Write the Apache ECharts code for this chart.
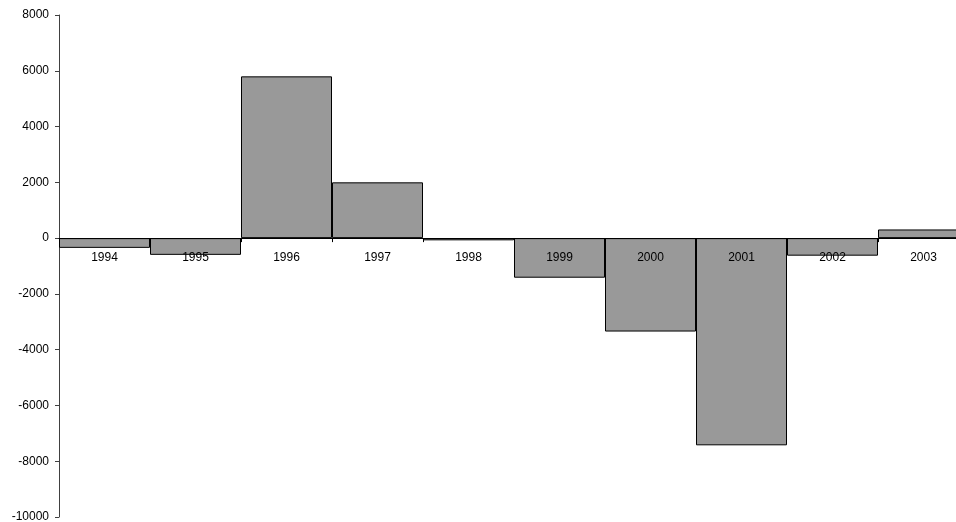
<!DOCTYPE html>
<html>
<head>
<meta charset="utf-8">
<script src="https://cdn.jsdelivr.net/npm/echarts@6/dist/echarts.min.js"></script>
<style>
  html, body { margin: 0; padding: 0; background: #fff; }
  #chart { width: 956px; height: 522px; }
</style>
</head>
<body>
<div id="chart"></div>
<script>
// Annual change, 1994–2003
const years = ['1994', '1995', '1996', '1997', '1998', '1999', '2000', '2001', '2002', '2003'];
const values = [-350, -600, 5800, 2000, -80, -1420, -3350, -7430, -630, 310];

// Value axis ticks
const yMin = -10000;
const yMax = 8000;
const yStep = 2000;

const labelFont = {
  color: '#000',
  fontFamily: 'Liberation Sans, Arial, sans-serif',
  fontSize: 12
};

const chart = echarts.init(document.getElementById('chart'), null, { renderer: 'canvas' });

chart.setOption({
  backgroundColor: '#ffffff',
  animation: false,
  grid: { left: 59, right: -13, top: 15, bottom: 5, containLabel: false, outerBoundsMode: 'none' },
  xAxis: [
    {
      // baseline drawn along zero, with category boundary ticks
      type: 'category',
      data: years,
      z: 10,
      axisLine: { onZero: true, lineStyle: { color: '#000', width: 1 } },
      axisTick: { show: true, length: 4, lineStyle: { color: '#000' } },
      axisLabel: { show: false },
      splitLine: { show: false }
    },
    {
      // year labels sitting just under the zero baseline, above the bars
      type: 'category',
      data: years,
      position: 'bottom',
      offset: -279,
      z: 10,
      axisLine: { show: false, onZero: false },
      axisTick: { show: false },
      axisLabel: Object.assign({ margin: 14 }, labelFont),
      splitLine: { show: false }
    }
  ],
  yAxis: {
    type: 'value',
    min: yMin,
    max: yMax,
    interval: yStep,
    axisLine: { show: true, lineStyle: { color: '#404040', width: 1 } },
    axisTick: { show: true, length: 4, lineStyle: { color: '#404040' } },
    axisLabel: Object.assign({ margin: 10, formatter: (v) => String(v) }, labelFont),
    splitLine: { show: false }
  },
  series: [{
    type: 'bar',
    xAxisIndex: 0,
    data: values,
    barCategoryGap: '0%',
    itemStyle: { color: '#999999', borderColor: '#000', borderWidth: 1 }
  }]
});
</script>
</body>
</html>
